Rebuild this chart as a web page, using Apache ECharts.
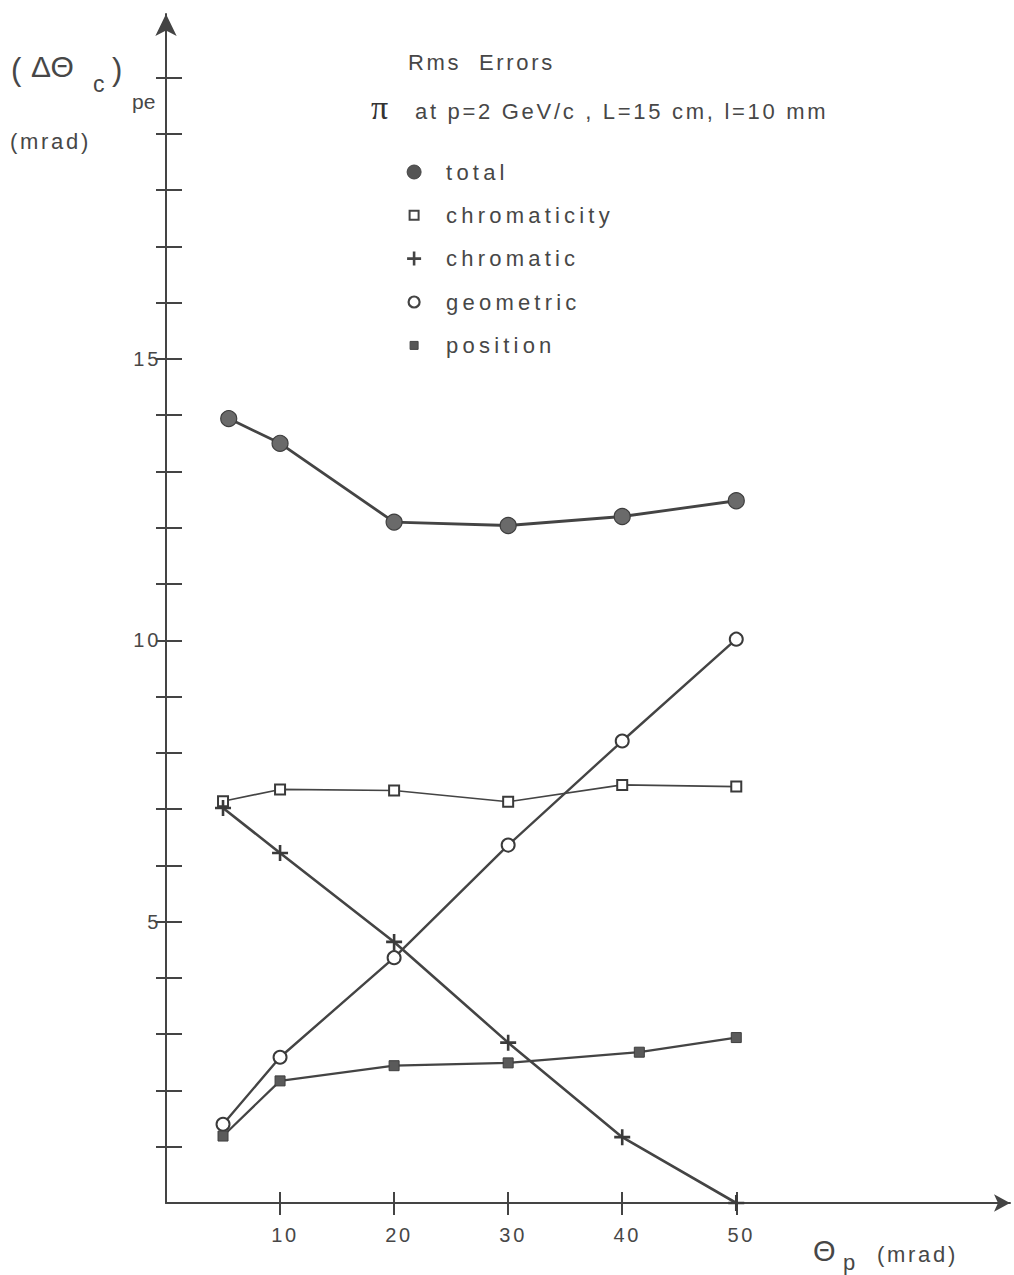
<!DOCTYPE html>
<html>
<head>
<meta charset="utf-8">
<script src="https://cdn.jsdelivr.net/npm/echarts@6/dist/echarts.min.js"></script>
<style>
  html, body { margin: 0; padding: 0; background: #fff; }
  #chart { width: 1014px; height: 1275px; }
  /* wide typewriter-like spacing of the lettering */
  #chart svg text { letter-spacing: 2.7px; }
  #chart svg text[style*="sans-serif"] { letter-spacing: 4.2px; }
  #chart svg text[style*="Arial"] { letter-spacing: 0; }
</style>
</head>
<body>
<div id="chart"></div>
<script>
// Beam angle Θp (mrad) and rms error contributions (mrad)
const thetaP = [5, 10, 20, 30, 40, 50];
const totalX = [5.5, 10, 20, 30, 40, 50];
const totalErr = [13.94, 13.5, 12.1, 12.04, 12.2, 12.48];
const chromaticityErr = [7.14, 7.35, 7.33, 7.13, 7.43, 7.4];
const chromaticErr = [7.02, 6.22, 4.64, 2.85, 1.17, 0.0];
const geometricErr = [1.4, 2.59, 4.36, 6.36, 8.21, 10.02];
const positionX = [5, 10, 20, 30, 41.5, 50];
const positionErr = [1.19, 2.17, 2.44, 2.49, 2.68, 2.94];

const xTicks = [10, 20, 30, 40, 50];
const yTicks = [1, 2, 3, 4, 5, 6, 7, 8, 9, 10, 11, 12, 13, 14, 15, 16, 17, 18, 19, 20];
const yLabels = [5, 10, 15];

const ink = '#444';
const txt = '#474747';
const FONT = 'Liberation Sans';
const FONT_WIDE = 'Liberation Sans, sans-serif';
const FONT_TIGHT = 'Liberation Sans, Arial';

const zip = (xs, ys) => xs.map((x, i) => [x, ys[i]]);

const plusPath = 'path://M-1.3,-8h2.6v6.7h6.7v2.6h-6.7v6.7h-2.6v-6.7h-6.7v-2.6h6.7z';
// legend icons live in a 37x20 box, the mark itself centred 10px from the left
const BOX = 'M0,0M37,20';

const chart = echarts.init(document.getElementById('chart'), null, { renderer: 'svg' });

chart.setOption({
  animation: false,
  backgroundColor: '#fff',
  grid: { left: 166, right: 4, top: 14, bottom: 72, containLabel: false },
  xAxis: [{
    type: 'value', min: 0, max: 74,
    axisLine: { show: true, onZero: false, symbol: ['none', 'arrow'], symbolSize: [13, 16],
      lineStyle: { color: ink, width: 2 } },
    axisTick: { show: true, length: 12, customValues: xTicks, lineStyle: { color: ink, width: 2 } },
    axisLabel: { customValues: xTicks, margin: 22, padding: [0, 0, 0, 10],
      fontSize: 20, fontFamily: FONT, color: txt },
    splitLine: { show: false }
  }, {
    type: 'value', min: 0, max: 74, position: 'bottom', offset: 0,
    axisLine: { show: false },
    axisTick: { show: true, inside: true, length: 11, customValues: xTicks, lineStyle: { color: ink, width: 2 } },
    axisLabel: { show: false },
    splitLine: { show: false }
  }],
  yAxis: [{
    type: 'value', min: 0, max: 21.13,
    axisLine: { show: true, onZero: false, symbol: ['none', 'arrow'], symbolSize: [16, 22],
      lineStyle: { color: ink, width: 2 } },
    axisTick: { show: true, length: 10, customValues: yTicks, lineStyle: { color: ink, width: 2 } },
    axisLabel: { customValues: yLabels, margin: 5, fontSize: 20, fontFamily: FONT, color: txt },
    splitLine: { show: false }
  }, {
    type: 'value', min: 0, max: 21.13, position: 'left', offset: 0,
    axisLine: { show: false },
    axisTick: { show: true, inside: true, length: 16, customValues: yTicks, lineStyle: { color: ink, width: 2 } },
    axisLabel: { show: false },
    splitLine: { show: false }
  }],
  legend: {
    orient: 'vertical', left: 403, top: 161, padding: 0,
    itemWidth: 37, itemHeight: 20, itemGap: 21.3,
    selectedMode: false,
    textStyle: { fontSize: 22, fontFamily: FONT_WIDE, color: txt, lineHeight: 20 },
    data: [
      { name: 'total', icon: 'path://' + BOX + 'M3,10a7,7 0 1,0 14,0a7,7 0 1,0 -14,0z',
        itemStyle: { color: '#555', borderColor: '#444', borderWidth: 1 } },
      { name: 'chromaticity', icon: 'path://' + BOX + 'M5.5,5.5h9v9h-9z',
        itemStyle: { color: '#fff', borderColor: '#444', borderWidth: 2 } },
      { name: 'chromatic', icon: 'path://M-10,-10M27,10M-1.3,-7h2.6v5.7h5.7v2.6h-5.7v5.7h-2.6v-5.7h-5.7v-2.6h5.7z',
        itemStyle: { color: '#444', borderWidth: 0 } },
      { name: 'geometric', icon: 'path://' + BOX + 'M4.5,10a5.5,5.5 0 1,0 11,0a5.5,5.5 0 1,0 -11,0z',
        itemStyle: { color: '#fff', borderColor: '#444', borderWidth: 2.2 } },
      { name: 'position', icon: 'path://' + BOX + 'M6,6h8v8h-8z',
        itemStyle: { color: '#555', borderColor: '#444', borderWidth: 1 } }
    ]
  },
  series: [
    {
      name: 'total', type: 'line', data: zip(totalX, totalErr),
      symbol: 'circle', symbolSize: 16,
      lineStyle: { color: ink, width: 2.8 },
      itemStyle: { color: '#6a6a6a', borderColor: '#3e3e3e', borderWidth: 1.2 }
    },
    {
      name: 'chromaticity', type: 'line', data: zip(thetaP, chromaticityErr),
      symbol: 'rect', symbolSize: 10,
      lineStyle: { color: ink, width: 1.6 },
      itemStyle: { color: '#fff', borderColor: '#3a3a3a', borderWidth: 2 }
    },
    {
      name: 'chromatic', type: 'line', data: zip(thetaP, chromaticErr),
      symbol: plusPath, symbolSize: 16,
      lineStyle: { color: ink, width: 2.6 },
      itemStyle: { color: '#3a3a3a', borderWidth: 0 }
    },
    {
      name: 'geometric', type: 'line', data: zip(thetaP, geometricErr),
      symbol: 'circle', symbolSize: 13,
      lineStyle: { color: ink, width: 2.4 },
      itemStyle: { color: '#fff', borderColor: '#3a3a3a', borderWidth: 2 }
    },
    {
      name: 'position', type: 'line', data: zip(positionX, positionErr),
      symbol: 'rect', symbolSize: 10,
      lineStyle: { color: ink, width: 2.2 },
      itemStyle: { color: '#5a5a5a', borderColor: '#3e3e3e', borderWidth: 1 }
    }
  ],
  graphic: [
    // plot heading
    { type: 'text', x: 408, y: 62, style: { text: 'Rms  Errors', fontSize: 22, fontFamily: FONT, fill: txt, verticalAlign: 'middle' } },
    { type: 'text', x: 371, y: 107, style: { text: 'π', fontSize: 34, fontFamily: 'Liberation Serif, Arial', fill: '#333', verticalAlign: 'middle' } },
    { type: 'text', x: 415, y: 111, style: { text: 'at p=2 GeV/c , L=15 cm, l=10 mm', fontSize: 22, fontFamily: FONT, fill: txt, verticalAlign: 'middle' } },
    // y axis title
    { type: 'text', x: 11, y: 69, style: { text: '(', fontSize: 31, fontFamily: FONT_TIGHT, fill: txt, verticalAlign: 'middle' } },
    { type: 'text', x: 31, y: 66, style: { text: 'ΔΘ', fontSize: 30, fontFamily: FONT_TIGHT, fill: txt, verticalAlign: 'middle' } },
    { type: 'text', x: 93, y: 84, style: { text: 'c', fontSize: 23, fontFamily: FONT_TIGHT, fill: txt, verticalAlign: 'middle' } },
    { type: 'text', x: 112, y: 69, style: { text: ')', fontSize: 31, fontFamily: FONT_TIGHT, fill: txt, verticalAlign: 'middle' } },
    { type: 'text', x: 132, y: 101, style: { text: 'pe', fontSize: 21, fontFamily: FONT_TIGHT, fill: txt, verticalAlign: 'middle' } },
    { type: 'text', x: 10, y: 141, style: { text: '(mrad)', fontSize: 22, fontFamily: FONT, fill: txt, verticalAlign: 'middle' } },
    // x axis title
    { type: 'text', x: 813, y: 1251, style: { text: 'Θ', fontSize: 29, fontFamily: FONT_TIGHT, fill: txt, verticalAlign: 'middle' } },
    { type: 'text', x: 843, y: 1262, style: { text: 'p', fontSize: 22, fontFamily: FONT_TIGHT, fill: txt, verticalAlign: 'middle' } },
    { type: 'text', x: 877, y: 1254, style: { text: '(mrad)', fontSize: 22, fontFamily: FONT, fill: txt, verticalAlign: 'middle' } }
  ]
});
</script>
</body>
</html>
